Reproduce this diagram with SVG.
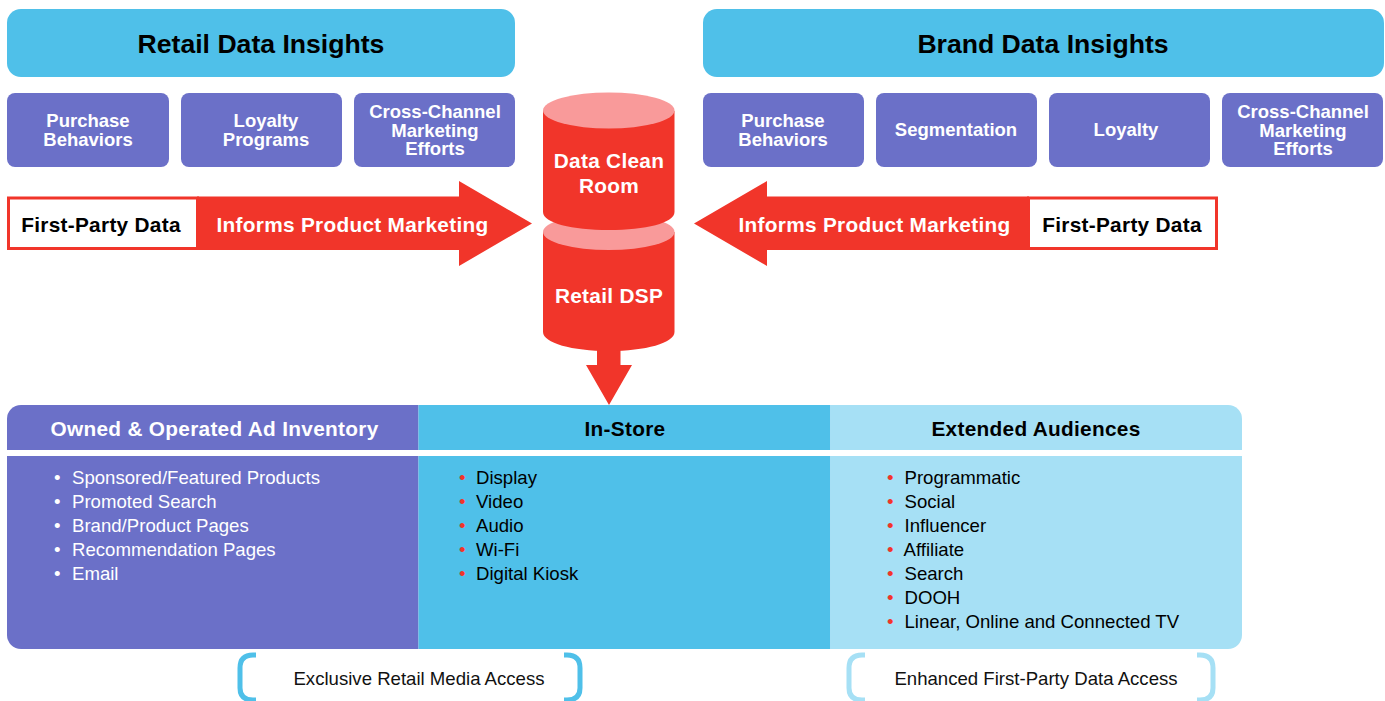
<svg xmlns="http://www.w3.org/2000/svg" width="1385" height="701" viewBox="0 0 1385 701">
<style>
text{font-family:"Liberation Sans",Arial,sans-serif}
.h{font-size:26.6px;font-weight:700;fill:#000;text-anchor:middle}
.p{font-size:18.5px;font-weight:700;fill:#fff;text-anchor:middle}
.w{font-size:20.8px;font-weight:700;fill:#fff;text-anchor:middle;letter-spacing:.3px}
.k{font-size:20.8px;font-weight:700;fill:#000;text-anchor:middle;letter-spacing:.3px}
.l{font-size:18.6px}
.r{fill:#f1352a}
.t{fill:#f99a9a}
.purple{fill:#6b70c8}
.blue{fill:#4fc0e9}
.pale{fill:#a6e0f5}
.bul{fill:#f1352a;font-size:18.6px}
.cap{font-size:18.6px;fill:#111;text-anchor:middle}
</style>
<rect width="1385" height="701" fill="#fff"/>
<g id="retail-insights"><rect class="blue" x="7" y="9" width="508" height="68" rx="14"/><text class="h" x="261" y="53">Retail Data Insights</text></g>
<g id="brand-insights"><rect class="blue" x="703" y="9" width="681" height="68" rx="14"/><text class="h" x="1043" y="53">Brand Data Insights</text></g>
<g id="r-purchase"><rect class="purple" x="7" y="93" width="162" height="74" rx="8"/><text class="p" x="88" y="127">Purchase</text><text class="p" x="88" y="146">Behaviors</text></g>
<g id="r-loyalty"><rect class="purple" x="181" y="93" width="161" height="74" rx="8"/><text class="p" x="266" y="127">Loyalty</text><text class="p" x="266" y="146">Programs</text></g>
<g id="r-cross"><rect class="purple" x="354" y="93" width="161" height="74" rx="8"/><text class="p" x="435" y="118">Cross-Channel</text><text class="p" x="435" y="137">Marketing</text><text class="p" x="435" y="155">Efforts</text></g>
<g id="b-purchase"><rect class="purple" x="703" y="93" width="161" height="74" rx="8"/><text class="p" x="783" y="127">Purchase</text><text class="p" x="783" y="146">Behaviors</text></g>
<g id="b-seg"><rect class="purple" x="876" y="93" width="161" height="74" rx="8"/><text class="p" x="956" y="136">Segmentation</text></g>
<g id="b-loyalty"><rect class="purple" x="1049" y="93" width="161" height="74" rx="8"/><text class="p" x="1126" y="136">Loyalty</text></g>
<g id="b-cross"><rect class="purple" x="1222" y="93" width="161" height="74" rx="8"/><text class="p" x="1303" y="118">Cross-Channel</text><text class="p" x="1303" y="137">Marketing</text><text class="p" x="1303" y="155">Efforts</text></g>
<g id="connectors">
<path class="r" d="M197 196.500H459V181L532 223.500L459 266V250H197Z"/>
<path class="r" d="M1029 196.500H767V181L694 223.500L767 266V250H1029Z"/>
<path class="r" d="M597 345H620.500V365H632L609 405L586 365H597Z"/>
</g>
<g id="left-source"><rect x="8.500" y="198" width="189" height="50.500" fill="#fff" stroke="#f1352a" stroke-width="3"/><text class="k" x="101" y="232">First-Party Data</text><text class="w" x="352.500" y="232">Informs Product Marketing</text></g>
<g id="right-source"><rect x="1028.500" y="198" width="188" height="50.500" fill="#fff" stroke="#f1352a" stroke-width="3"/><text class="k" x="1122" y="232">First-Party Data</text><text class="w" x="874.500" y="232">Informs Product Marketing</text></g>
<g id="retail-dsp"><path class="r" d="M543 232V332C543 343 572 351 608.750 351S674.500 343 674.500 332V232Z"/><ellipse class="t" cx="608.750" cy="232" rx="65.750" ry="18"/><text class="w" x="609" y="303">Retail DSP</text></g>
<g id="clean-room"><path class="r" d="M543 111V212C543 223 572 230 608.750 230S674.500 223 674.500 212V111Z"/><ellipse class="t" cx="608.750" cy="110.500" rx="65.750" ry="18"/><text class="w" x="609" y="168">Data Clean</text><text class="w" x="609" y="193">Room</text></g>
<g id="owned">
<path class="purple" d="M418.500 405H21A14 14 0 0 0 7 419V450H418.500Z"/>
<path class="purple" d="M7 456H418.500V649H21A14 14 0 0 1 7 635Z"/>
<text class="w" x="214.500" y="436">Owned &amp; Operated Ad Inventory</text>
<g class="l" fill="#fff"><text x="54" y="484">•</text><text x="72" y="484">Sponsored/Featured Products</text><text x="54" y="508">•</text><text x="72" y="508">Promoted Search</text><text x="54" y="532">•</text><text x="72" y="532">Brand/Product Pages</text><text x="54" y="556">•</text><text x="72" y="556">Recommendation Pages</text><text x="54" y="580">•</text><text x="72" y="580">Email</text></g>
</g>
<g id="in-store">
<rect class="blue" x="418.500" y="405" width="412" height="45"/>
<rect class="blue" x="418.500" y="456" width="412" height="193"/>
<text class="k" x="625" y="436">In-Store</text>
<g class="l" fill="#000"><text class="bul" x="459" y="484">•</text><text x="476" y="484">Display</text><text class="bul" x="459" y="508">•</text><text x="476" y="508">Video</text><text class="bul" x="459" y="532">•</text><text x="476" y="532">Audio</text><text class="bul" x="459" y="556">•</text><text x="476" y="556">Wi-Fi</text><text class="bul" x="459" y="580">•</text><text x="476" y="580">Digital Kiosk</text></g>
</g>
<g id="extended">
<path class="pale" d="M830.500 405H1228A14 14 0 0 1 1242 419V450H830.500Z"/>
<path class="pale" d="M830.500 456H1242V635A14 14 0 0 1 1228 649H830.500Z"/>
<text class="k" x="1036" y="436">Extended Audiences</text>
<g class="l" fill="#000"><text class="bul" x="887" y="484">•</text><text x="904.500" y="484">Programmatic</text><text class="bul" x="887" y="508">•</text><text x="904.500" y="508">Social</text><text class="bul" x="887" y="532">•</text><text x="904.500" y="532">Influencer</text><text class="bul" x="887" y="556">•</text><text x="903.500" y="556">Affiliate</text><text class="bul" x="887" y="580">•</text><text x="904.500" y="580">Search</text><text class="bul" x="887" y="604">•</text><text x="904.500" y="604">DOOH</text><text class="bul" x="887" y="628">•</text><text x="904.500" y="628">Linear, Online and Connected TV</text></g>
</g>
<g id="cap-left" fill="none" stroke="#4fc0e9" stroke-width="5">
<path d="M256 655H253Q240 655 240 668V688Q240 700 253 700H256"/>
<path d="M564 655H567Q580 655 580 668V688Q580 700 567 700H564"/>
<text class="cap" x="419" y="685" stroke="none">Exclusive Retail Media Access</text>
</g>
<g id="cap-right" fill="none" stroke="#a6e0f5" stroke-width="5">
<path d="M865 655H862Q849 655 849 668V688Q849 700 862 700H865"/>
<path d="M1197 655H1200Q1213 655 1213 668V688Q1213 700 1200 700H1197"/>
<text class="cap" x="1036" y="685" stroke="none">Enhanced First-Party Data Access</text>
</g>
</svg>
